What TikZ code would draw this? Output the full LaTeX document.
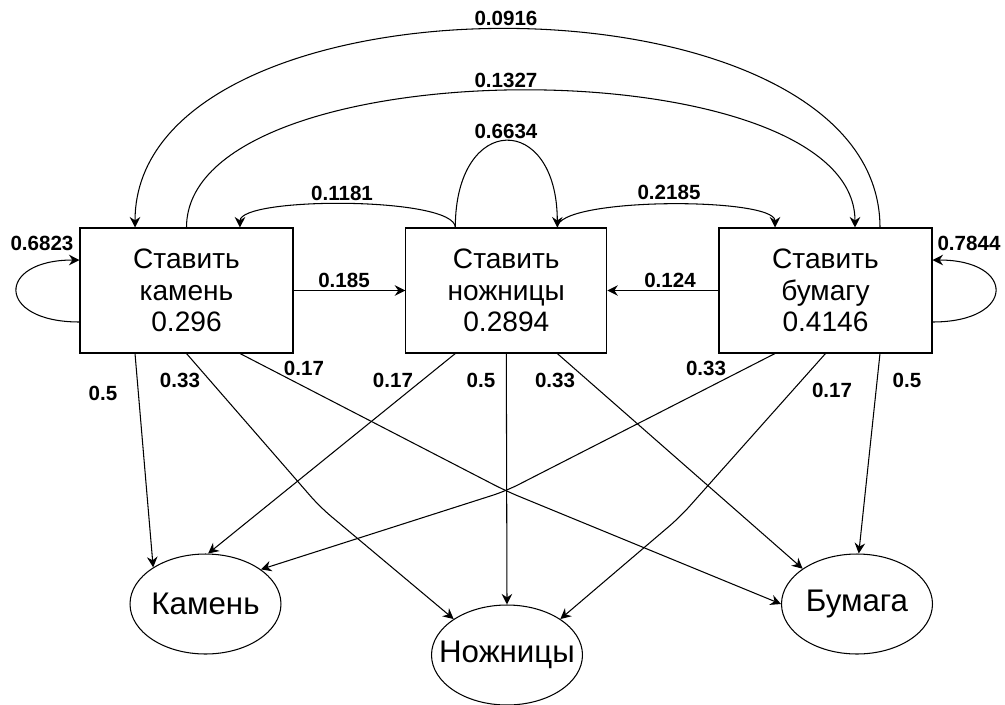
\documentclass[tikz,border=0pt]{standalone}
\usepackage{fontspec}
\setmainfont{Liberation Sans}
\usetikzlibrary{shapes.geometric,arrows.meta}

\begin{document}
\begin{tikzpicture}[x=0.02cm, y=0.02cm, >={Stealth[length=6pt,width=6pt,inset=2pt]}, line width=0.6pt,
        state/.style={draw, rectangle, minimum height=2.5cm, inner sep=0pt, align=center, font=\fontsize{16}{18}\selectfont},
        outcome/.style={draw, ellipse, minimum width=3.02cm, minimum height=2cm, inner sep=0pt, font=\fontsize{17.8}{20}\selectfont},
        lbl/.style={font=\fontsize{11.7}{13}\selectfont\bfseries, inner sep=1pt}]
        \useasboundingbox (0,0) rectangle (1005,-704);

        \node[state, minimum width=4.26cm] (rock) at (186.5,-290.5) {Ставить\\камень\\0.296};
        \node[state, minimum width=4.02cm] (scissors) at (506.3,-290.5) {Ставить\\ножницы\\0.2894};
        \node[state, minimum width=4.26cm] (paper) at (825.5,-290.5) {Ставить\\бумагу\\0.4146};

        \node[outcome] (kamen) at (205.5,-604) {\makebox[0pt]{Камень}};
        \node[outcome] (nozh) at (507,-655) {\makebox[0pt]{Ножницы}};
        \node[outcome] (bum) at (857,-604) {\makebox[0pt]{Бумага}};

        % loops and transitions between the states
        \draw[->] ([yshift=-0.63cm]rock.west) to[out=180, in=180, looseness=3.46] ([yshift=0.61cm]rock.west) node[lbl] at (42,-243) {0.6823};
        \draw[->] ([yshift=-0.63cm]paper.east) to[out=0, in=0, looseness=3.46] ([yshift=0.61cm]paper.east) node[lbl] at (969,-243) {0.7844};
        \draw[->] (rock) -- (scissors) node[lbl] at (344,-280) {0.185};
        \draw[->] (paper) -- (scissors) node[lbl] at (670,-280) {0.124};
        \draw[->] ([xshift=-1.02cm]scissors.north) to[out=90, in=90, looseness=0.37] ([xshift=1.07cm]rock.north) node[lbl] at (342,-193) {0.1181};
        \draw[->] ([xshift=-1.02cm]scissors.north) to[out=90, in=90, looseness=2.9] ([xshift=1.02cm]scissors.north) node[lbl] at (506,-131) {0.6634};
        \draw[->] ([xshift=1.02cm]scissors.north) to[out=90, in=90, looseness=0.36] ([xshift=-1.01cm]paper.north) node[lbl] at (669,-192) {0.2185};
        \draw[->] (rock.north) to[out=90, in=90, looseness=0.7] ([xshift=0.59cm]paper.north) node[lbl] at (506,-80) {0.1327};
        \draw[->] ([xshift=1.09cm]paper.north) to[out=90, in=90, looseness=0.91] ([xshift=-1.03cm]rock.north) node[lbl] at (506,-18) {0.0916};

        % what is actually shown
        \draw[->] ([xshift=-1.03cm]rock.south) -- (kamen.145) node[lbl] at (103,-393) {0.5};
        \draw[->, rounded corners=8pt] (rock.south) -- (320,-507) -- (nozh.146) node[lbl] at (180,-380) {0.33};
        \draw[->, rounded corners=8pt] ([xshift=1.07cm]rock.south) -- (506,-491) -- (bum.180) node[lbl] at (304,-368) {0.17};
        \draw[->] ([xshift=-1.02cm]scissors.south) -- (kamen.87) node[lbl] at (393,-380) {0.17};
        \draw[->] (scissors.south) -- (nozh.north) node[lbl] at (481,-380) {0.5};
        \draw[->] ([xshift=1.02cm]scissors.south) -- (bum.147) node[lbl] at (555,-380) {0.33};
        \draw[->, rounded corners=8pt] ([xshift=-1.01cm]paper.south) -- (506,-491) -- (kamen.32) node[lbl] at (706,-368) {0.33};
        \draw[->, rounded corners=8pt] (paper.south) -- (680,-517) -- (nozh.34) node[lbl] at (832,-390) {0.17};
        \draw[->] ([xshift=1.09cm]paper.south) -- (bum.88) node[lbl] at (907,-380) {0.5};
    \end{tikzpicture}
\end{document}
